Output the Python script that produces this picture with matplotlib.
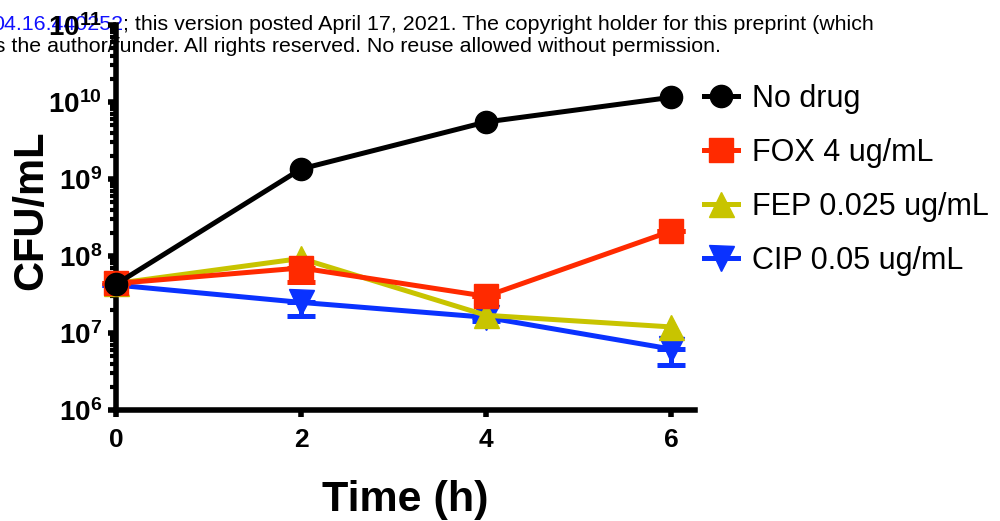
import matplotlib
matplotlib.use("Agg")

import matplotlib.pyplot as plt
import numpy as np
from matplotlib.text import Annotation

plt.rcParams["font.family"] = ["Liberation Sans", "DejaVu Sans"]
plt.rcParams["mathtext.fontset"] = "custom"
plt.rcParams["mathtext.rm"] = "Liberation Sans"
plt.rcParams["mathtext.bf"] = "Liberation Sans:bold"

# Growth curves: CFU/mL over time for each treatment
time_h = [0, 2, 4, 6]
no_drug = [4.3e7, 1.35e9, 5.5e9, 1.15e10]
fox = [4.4e7, 7.0e7, 3.0e7, 2.1e8]
fep = [4.4e7, 9.3e7, 1.7e7, 1.2e7]
cip = [4.2e7, 2.5e7, 1.6e7, 6.2e6]

# lower error bar ends (only the lower arm shows below the markers)
fox_low = [4.4e7, 4.6e7, 3.0e7, 2.1e8]
cip_low = [4.2e7, 1.65e7, 1.45e7, 3.9e6]

labels = ["No drug", "FOX 4 ug/mL", "FEP 0.025 ug/mL", "CIP 0.05 ug/mL"]
colors = ["#000000", "#FF2A00", "#C8C400", "#0A32FF"]

fig = plt.figure(figsize=(10, 5.21), dpi=100)
ax = fig.add_axes([0.116, 0.213, 0.579, 0.739])
ax.patch.set_visible(False)

lw = 3.6
series = [
    (cip, cip_low, "v", 18, colors[3], labels[3], 2),
    (fep, None, "^", 18, colors[2], labels[2], 3),
    (fox, fox_low, "s", 17, colors[1], labels[1], 4),
    (no_drug, None, "o", 16, colors[0], labels[0], 5),
]
handles = {}
for vals, low, mk, ms, col, lab, z in series:
    vals = np.array(vals)
    if low is not None:
        lower = vals - np.array(low)
        ax.errorbar(time_h, vals, yerr=[lower, np.zeros_like(vals)], fmt="none",
                    ecolor=col, elinewidth=lw, capsize=10, capthick=lw,
                    zorder=z, clip_on=False)
    (h,) = ax.plot(time_h, vals, marker=mk, markersize=ms, color=col, lw=lw,
                   label=lab, zorder=z + 0.5, clip_on=False)
    handles[lab] = h

ax.set_yscale("log")
ax.set_ylim(1e6, 1e11)
ax.set_xlim(0, 6.26)
ax.set_xticks(time_h)
ax.set_xticklabels([str(t) for t in time_h])
ax.set_yticks([1e6, 1e7, 1e8, 1e9, 1e10, 1e11])
ax.set_yticklabels([r"$\mathbf{10^{%d}}$" % p for p in range(6, 12)])
ax.yaxis.set_minor_locator(matplotlib.ticker.LogLocator(base=10, subs=np.arange(2, 10)))
ax.yaxis.set_minor_formatter(matplotlib.ticker.NullFormatter())

for side in ["top", "right"]:
    ax.spines[side].set_visible(False)
for side in ["left", "bottom"]:
    ax.spines[side].set_linewidth(4)
ax.tick_params(axis="y", which="major", direction="out", length=6, width=4,
               labelsize=20, pad=4)
ax.tick_params(axis="x", which="major", direction="out", length=5, width=4,
               labelsize=19, pad=8)
ax.tick_params(axis="y", which="minor", direction="out", length=4, width=3)
for t in ax.get_xticklabels():
    t.set_fontweight("bold")

ax.set_xlabel("Time (h)", fontsize=31, fontweight="bold", labelpad=20)
ax.set_ylabel("CFU/mL", fontsize=30, fontweight="bold")
ax.yaxis.set_label_coords(-0.112, 0.519)

fig.legend([handles[l] for l in labels], labels, loc="upper left",
           bbox_to_anchor=(0.692, 0.862), frameon=False, fontsize=22,
           handlelength=1.1, handletextpad=0.45, labelspacing=0.78,
           borderaxespad=0)

# preprint banner across the top, kept behind the axes
doi = fig.text(-0.008, 0.942, "04.16.440252", color="#1010FF", fontsize=15.4,
               va="baseline", zorder=-1)
rest = Annotation("; this version posted April 17, 2021. The copyright holder for this preprint (which",
                  xy=(1, 0), xycoords=doi, va="bottom", ha="left",
                  fontsize=15.4, color="black", annotation_clip=False)
rest.set_zorder(-1)
fig.add_artist(rest)
fig.text(-0.010, 0.900, "is the author/funder. All rights reserved. No reuse allowed without permission.",
         color="black", fontsize=15.4, va="baseline", zorder=-1)

fig.savefig("out.png", dpi=100)
